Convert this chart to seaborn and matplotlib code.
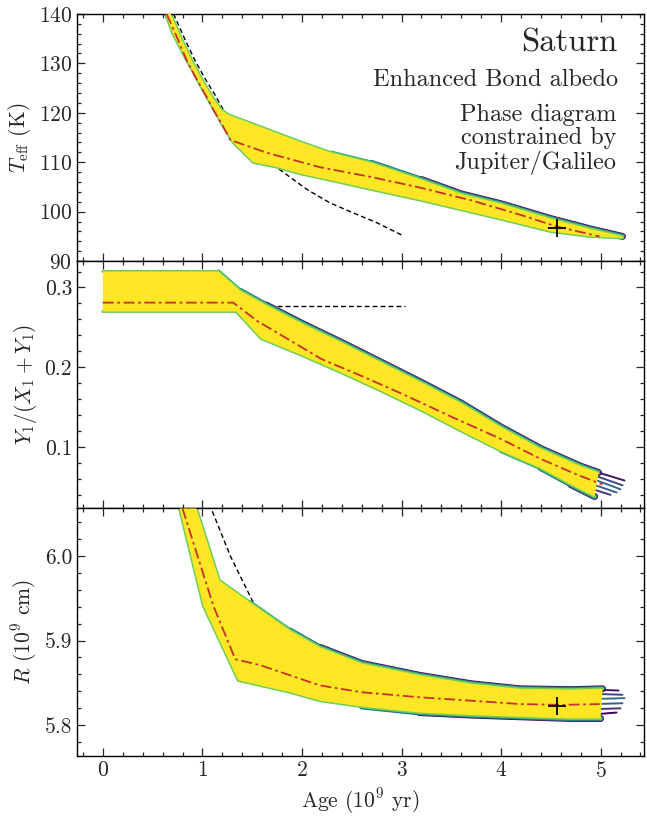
import numpy as np
import seaborn as sns
import matplotlib.pyplot as plt
import matplotlib as mpl
from matplotlib.ticker import MultipleLocator

sns.set_theme(style='ticks')
mpl.rcParams['font.family'] = 'serif'
mpl.rcParams['font.serif'] = ['cmr10', 'DejaVu Serif']
mpl.rcParams['mathtext.fontset'] = 'cm'
mpl.rcParams['axes.unicode_minus'] = False
mpl.rcParams['axes.formatter.use_mathtext'] = True

# ---- Teff panel ----
teff_up_age = [0.66, 0.8, 0.9, 1.0, 1.1, 1.19, 1.26, 1.5, 1.75, 2.0, 2.3, 2.7, 3.2, 3.6, 4.0, 4.5, 4.9, 5.22]
teff_up = [141, 134.5, 130.3, 126.6, 123.2, 120.6, 119.6, 117.8, 115.9, 114.0, 111.9, 109.9, 106.5, 103.6, 101.6, 98.6, 96.5, 95.0]
teff_lo_age = [0.62, 0.7, 0.8, 0.9, 1.0, 1.1, 1.2, 1.31, 1.51, 1.75, 2.0, 2.3, 2.7, 3.2, 3.6, 4.0, 4.5, 4.9, 5.22]
teff_lo = [140.5, 136.2, 132.2, 128.5, 124.8, 121.2, 117.6, 114.0, 110.0, 109.0, 107.6, 106.3, 104.5, 102.3, 100.4, 98.5, 96.0, 95.0, 94.7]
teff_med_age = [0.64, 0.75, 0.84, 0.95, 1.02, 1.11, 1.2, 1.28, 1.65, 2.18, 2.7, 3.18, 3.7, 4.19, 4.56, 4.99]
teff_med = [140, 135, 130.7, 126.5, 124.0, 120.6, 117.5, 114.5, 111.9, 109.0, 107.0, 104.9, 102.3, 99.4, 97.0, 95.0]
teff_dash_age = [0.71, 0.83, 0.93, 1.03, 1.13, 1.21, 1.3, 1.45, 1.75, 2.05, 2.28, 2.51, 2.75, 3.01]
teff_dash = [140, 134.6, 130.4, 126.8, 123.5, 120.6, 117.7, 114.6, 108.9, 104.5, 101.8, 99.8, 97.8, 95.2]

# ---- helium panel ----
y_up_age = [0, 1.16, 1.38, 1.64, 2.0, 2.4, 2.8, 3.2, 3.6, 4.0, 4.4, 4.8, 4.98]
y_up = [0.320, 0.320, 0.296, 0.278, 0.255, 0.231, 0.206, 0.181, 0.155, 0.125, 0.098, 0.076, 0.068]
y_lo_age = [0, 1.34, 1.59, 1.98, 2.4, 2.8, 3.2, 3.6, 4.0, 4.39, 4.7, 4.94]
y_lo = [0.270, 0.270, 0.236, 0.216, 0.193, 0.170, 0.146, 0.120, 0.095, 0.074, 0.053, 0.038]
y_med_age = [0, 1.31, 1.55, 1.85, 2.2, 2.6, 3.0, 3.5, 4.0, 4.4, 4.75, 5.02]
y_med = [0.281, 0.281, 0.258, 0.236, 0.210, 0.189, 0.167, 0.138, 0.110, 0.085, 0.066, 0.053]
y_dash_age = [0, 3.03]
y_dash = [0.277, 0.277]
# ragged ends of the longest-lived models
y_tail_age = [[4.9, 5.24], [4.9, 5.22], [4.9, 5.2], [4.88, 5.16], [4.85, 5.1]]
y_tail = [[0.071, 0.058], [0.066, 0.052], [0.061, 0.047], [0.055, 0.043], [0.050, 0.040]]

# ---- radius panel ----
r_up_age = [0.94, 1.17, 1.48, 1.88, 2.18, 2.6, 3.18, 3.7, 4.19, 4.7, 5.02]
r_up = [6.056, 5.971, 5.945, 5.912, 5.892, 5.873, 5.859, 5.849, 5.843, 5.842, 5.843]
r_lo_age = [0.77, 1.01, 1.36, 1.58, 1.88, 2.18, 2.6, 3.18, 3.7, 4.19, 4.7, 5.0]
r_lo = [6.056, 5.941, 5.853, 5.847, 5.839, 5.829, 5.822, 5.815, 5.812, 5.810, 5.808, 5.808]
r_med_age = [0.80, 1.11, 1.33, 1.58, 1.88, 2.18, 2.6, 3.18, 3.7, 4.19, 4.6, 4.99]
r_med = [6.056, 5.941, 5.878, 5.871, 5.859, 5.847, 5.839, 5.833, 5.829, 5.825, 5.824, 5.825]
r_dash_age = [1.04, 1.28, 1.51, 1.6]
r_dash = [6.07, 6.0, 5.945, 5.935]
r_tail_age = [[4.95, 5.18], [4.95, 5.22], [4.95, 5.24], [4.95, 5.22], [4.95, 5.2], [4.95, 5.16]]
r_tail = [[5.842, 5.841], [5.837, 5.836], [5.831, 5.832], [5.825, 5.826], [5.819, 5.820], [5.813, 5.815]]

saturn_age = 4.56
saturn_teff = 96.7
saturn_r = 5.823

vir = mpl.colormaps['viridis']
# colour, width, start offset after the edge turns dark
dark_layers = [(vir(0.0), 5.0, 0.5), (vir(0.3), 4.1, 0.25), (vir(0.55), 3.1, 0.0)]


def edge(ax, age, val, dark_from):
    age = np.asarray(age, float)
    val = np.asarray(val, float)
    if dark_from is not None:
        for c, lw, off in dark_layers:
            m = age >= dark_from + off
            ax.plot(age[m], val[m], color=c, lw=lw, zorder=2, solid_capstyle='round')
    ax.plot(age, val, color=vir(0.78), lw=2.2, zorder=2.5)


def band(ax, ua, uv, la, lv, ud, ld):
    edge(ax, ua, uv, ud)
    edge(ax, la, lv, ld)
    px = np.r_[ua, la[::-1]]
    py = np.r_[uv, lv[::-1]]
    ax.fill(px, py, color=vir(1.0), lw=0, zorder=3)


def tails(ax, ages, vals):
    cols = [vir(0.05), vir(0.2), vir(0.35), vir(0.3), vir(0.15), vir(0.0)]
    for i, (a, v) in enumerate(zip(ages, vals)):
        ax.plot(a, v, color=cols[i % len(cols)], lw=1.4, zorder=2.2)


fig, axes = plt.subplots(3, 1, figsize=(6.47, 8.17), dpi=100, sharex=True)
plt.subplots_adjust(left=0.119, right=0.996, top=0.983, bottom=0.075, hspace=0)

panels = [
    (teff_up_age, teff_up, teff_lo_age, teff_lo, teff_med_age, teff_med, teff_dash_age, teff_dash, 2.3, None),
    (y_up_age, y_up, y_lo_age, y_lo, y_med_age, y_med, y_dash_age, y_dash, 1.1, 3.9),
    (r_up_age, r_up, r_lo_age, r_lo, r_med_age, r_med, r_dash_age, r_dash, 1.4, 2.3),
]

tails(axes[1], y_tail_age, y_tail)
tails(axes[2], r_tail_age, r_tail)

for ax, (ua, uv, la, lv, ma, mv, da, dv, ud, ld) in zip(axes, panels):
    sns.lineplot(x=da, y=dv, ax=ax, color='black', lw=1.0, dashes=False,
                 linestyle=(0, (3.5, 2.2)), zorder=1, estimator=None, sort=False)
    band(ax, ua, uv, la, lv, ud, ld)
    sns.lineplot(x=ma, y=mv, ax=ax, color='#c8302c', lw=1.3, linestyle=(0, (6, 2, 1.5, 2)),
                 zorder=4, estimator=None, sort=False)

axes[0].plot([saturn_age], [saturn_teff], marker='+', color='black', ms=13, mew=1.3, zorder=5)
axes[2].plot([saturn_age], [saturn_r], marker='+', color='black', ms=13, mew=1.3, zorder=5)

axes[0].set_ylim(90, 140)
axes[1].set_ylim(0.023, 0.333)
axes[2].set_ylim(5.764, 6.056)
axes[2].set_xlim(-0.26, 5.44)

axes[0].yaxis.set_major_locator(MultipleLocator(10))
axes[0].yaxis.set_minor_locator(MultipleLocator(2))
axes[1].yaxis.set_major_locator(MultipleLocator(0.1))
axes[1].yaxis.set_minor_locator(MultipleLocator(0.02))
axes[2].yaxis.set_major_locator(MultipleLocator(0.1))
axes[2].yaxis.set_minor_locator(MultipleLocator(0.02))
axes[2].xaxis.set_major_locator(MultipleLocator(1))
axes[2].xaxis.set_minor_locator(MultipleLocator(0.2))
axes[1].yaxis.set_major_formatter(mpl.ticker.FormatStrFormatter('%.1f'))
axes[2].yaxis.set_major_formatter(mpl.ticker.FormatStrFormatter('%.1f'))

for ax in axes:
    ax.tick_params(which='both', direction='in', top=True, right=True, labelsize=15.5, width=0.9)
    ax.tick_params(which='major', length=6)
    ax.tick_params(which='minor', length=3)
    for s in ax.spines.values():
        s.set_linewidth(1.0)
        s.set_color('black')
    ax.set_xlabel('')

axes[0].set_ylabel(r'$T_{\rm eff}$ (K)', fontsize=15.5)
axes[1].set_ylabel(r'$Y_1/(X_1+Y_1)$', fontsize=15.5)
axes[2].set_ylabel(r'$R$ ($10^9$ cm)', fontsize=15.5)
axes[2].set_xlabel(r'Age ($10^9$ yr)', fontsize=15.5)

axes[0].text(0.953, 0.883, 'Saturn', transform=axes[0].transAxes, ha='right', va='center', fontsize=23.5)
axes[0].text(0.953, 0.734, 'Enhanced Bond albedo', transform=axes[0].transAxes, ha='right', va='center', fontsize=17.5)
axes[0].text(0.951, 0.492, 'Phase diagram\nconstrained by\nJupiter/Galileo', transform=axes[0].transAxes,
             ha='right', va='center', multialignment='right', fontsize=17.5, linespacing=1.05)

plt.savefig('out.png', dpi=100)
plt.close()
